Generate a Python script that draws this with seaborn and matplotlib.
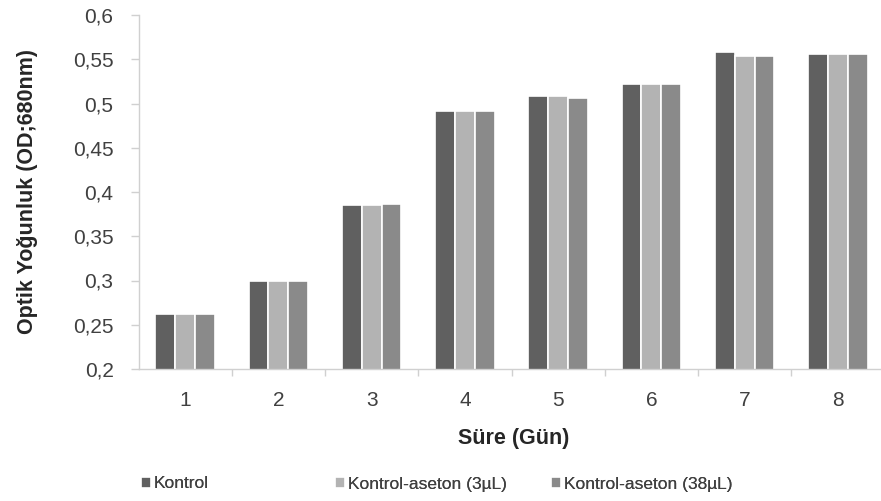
import matplotlib
matplotlib.use("Agg")
import matplotlib.pyplot as plt
import seaborn as sns
import pandas as pd
from matplotlib.ticker import FixedLocator, FuncFormatter

days = ["1", "2", "3", "4", "5", "6", "7", "8"]
kontrol = [0.262, 0.300, 0.385, 0.492, 0.508, 0.522, 0.558, 0.556]
aseton_3 = [0.262, 0.300, 0.385, 0.492, 0.508, 0.522, 0.554, 0.556]
aseton_38 = [0.262, 0.300, 0.386, 0.492, 0.506, 0.522, 0.554, 0.556]
series_names = ["Kontrol", "Kontrol-aseton (3µL)", "Kontrol-aseton (38µL)"]
colors = ["#606060", "#b3b3b3", "#8a8a8a"]

rows = []
for name, vals in zip(series_names, [kontrol, aseton_3, aseton_38]):
    for d, v in zip(days, vals):
        rows.append({"Gün": d, "OD": v, "Seri": name})
df = pd.DataFrame(rows)

sns.set_style("white")
plt.rcParams["font.family"] = ["Liberation Sans", "DejaVu Sans"]

W, H = 881, 501
fig = plt.figure(figsize=(W / 100, H / 100), dpi=100)
ax_l, ax_r, ax_t, ax_b = 138.5, 884.5, 15, 369
ax = fig.add_axes([ax_l / W, 1 - ax_b / H, (ax_r - ax_l) / W, (ax_b - ax_t) / H])

sns.barplot(data=df, x="Gün", y="OD", hue="Seri", palette=colors,
            width=0.64, edgecolor="white", linewidth=1.2, saturation=1,
            ax=ax, legend=True)

ax.set_ylim(0.2, 0.6)
ax.set_xlim(-0.5, 7.5)
yt = [0.2, 0.25, 0.3, 0.35, 0.4, 0.45, 0.5, 0.55, 0.6]
ax.yaxis.set_major_locator(FixedLocator(yt))
ax.yaxis.set_major_formatter(FuncFormatter(lambda v, p: f"{v:g}".replace(".", ",")))
ax.tick_params(axis="y", labelsize=15, colors="#d0d0d0", labelcolor="#404040",
               length=6, width=1, left=True, direction="out", pad=12)
ax.tick_params(axis="x", which="major", labelsize=15, labelcolor="#404040", length=0, pad=16)
ax.set_xticks([i + 0.5 for i in range(7)], minor=True)
ax.tick_params(axis="x", which="minor", length=5, width=1, colors="#d0d0d0", bottom=True, direction="out")

for s in ["top", "right"]:
    ax.spines[s].set_visible(False)
for s in ["left", "bottom"]:
    ax.spines[s].set_color("#d0d0d0")
    ax.spines[s].set_linewidth(1)

ax.set_xlabel("Süre (Gün)", fontsize=15.5, fontweight="bold", color="#262626")
ax.set_ylabel("Optik Yoğunluk (OD;680nm)", fontsize=15.5, fontweight="bold", color="#262626")
ax.xaxis.set_label_coords((514 - ax_l) / (ax_r - ax_l), -(428 - ax_b) / (ax_b - ax_t))
ax.yaxis.set_label_coords(-(ax_l - 38) / (ax_r - ax_l), 0.5)
ax.grid(False)

handles, labels = ax.get_legend_handles_labels()
ax.get_legend().remove()
leg_x = [141, 335, 551]
for h, lab, lx in zip(handles, labels, leg_x):
    lg = fig.legend([h], [lab], loc="center left", bbox_to_anchor=(lx / W, 1 - 484 / H),
                    frameon=False, fontsize=12.5, handlelength=0.55, handleheight=0.55,
                    handletextpad=0.2, borderpad=0, borderaxespad=0, labelcolor="#404040")
    fig.add_artist(lg)

fig.savefig("out.png", dpi=100)
